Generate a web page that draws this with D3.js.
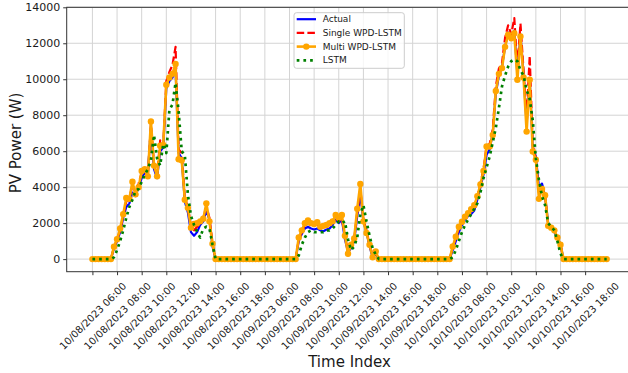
<!DOCTYPE html>
<meta charset="utf-8">
<style>
	body { margin: 0; background: #fff; }
	svg text { font-family: "DejaVu Sans", sans-serif; fill: #1a1a1a; }
</style>
<svg width="628" height="373" id="chart"></svg>
<script src="https://cdn.jsdelivr.net/npm/d3@7/dist/d3.min.js"></script>
<script>
	// 15 minute samples, 06:00 - 19:45 each day, x axis is the sample index
	var tickLabels = [
		"10/08/2023 06:00", "10/08/2023 08:00", "10/08/2023 10:00", "10/08/2023 12:00", "10/08/2023 14:00", "10/08/2023 16:00", "10/08/2023 18:00",
		"10/09/2023 06:00", "10/09/2023 08:00", "10/09/2023 10:00", "10/09/2023 12:00", "10/09/2023 14:00", "10/09/2023 16:00", "10/09/2023 18:00",
		"10/10/2023 06:00", "10/10/2023 08:00", "10/10/2023 10:00", "10/10/2023 12:00", "10/10/2023 14:00", "10/10/2023 16:00", "10/10/2023 18:00"
	];
	var tickIndex = [0, 8, 16, 24, 32, 40, 48, 56, 64, 72, 80, 88, 96, 104, 112, 120, 128, 136, 144, 152, 160];
	var yTicks = [0, 2000, 4000, 6000, 8000, 10000, 12000, 14000];

	var actual = [
		0,0,0,0,0,0,0, 600,1000,1500,2300,2900,3100,3700,3500,4000,4500,4800,4800,7300,5000,4500,6000,6200,9500,9900,10100,10500,
		5900,5600,3200,2600,1500,1300,1500,1900,2100,2700,2200,700, 0,0,0,0,0,0,0,0,0,0,0,0,0,0,0,0,
		0,0,0,0,0,0,0,0,0,0,0, 1000,1400,1700,1800,1700,1650,1700,1600,1550,1650,1700,1900,2200,2000,2200,1100,400,
		600,1000,2400,3600,2100,1500,700,100,300, 0,0,0,0,0,0,0,0,0,0,0,0,0,0,0,0,0,0,0,
		0,0,0,0,0, 500,1000,1500,1900,2200,2400,2500,2700,3300,4000,4700,5800,6100,7000,9200,10200,10700,11800,12600,12300,12700,10300,12500,
		10300,7500,10000,6200,5700,4000,4200,3500,2000,1700,1500,1200,800, 0,0,0,0,0,0,0,0,0,0,0,0,0,0,0
	];
	var singleWPD = [
		0,0,0,0,0,0,0, 650,1100,1600,2400,3200,3400,4100,3700,4200,4800,5000,4600,7500,5300,4700,6600,6300,9900,10400,10800,11800,
		6100,5900,3400,2900,1800,1600,1800,2000,2300,2900,2300,900, 0,0,0,0,0,0,0,0,0,0,0,0,0,0,0,0,
		0,0,0,0,0,0,0,0,0,0,0, 1100,1500,1900,2000,1900,1900,1900,1700,1800,1900,2000,2100,2300,2100,2300,1200,500,
		700,1100,2600,3900,2200,1600,800,200,350, 0,0,0,0,0,0,0,0,0,0,0,0,0,0,0,0,0,0,0,
		0,0,0,0,0, 650,1200,1700,2000,2300,2500,2700,2900,3500,4200,5000,6300,6400,7200,9600,10600,10900,12300,13000,12500,13400,10600,13100,
		10500,7800,11300,6300,5600,3700,4000,3500,1900,1800,1600,1200,800, 0,0,0,0,0,0,0,0,0,0,0,0,0,0,0
	];
	var multiWPD = [
		0,0,0,0,0,0,0, 690,1100,1700,2500,3400,3350,4300,3600,4000,4900,5000,4600,7650,5200,4600,6300,6350,9700,10100,10300,10850,
		5550,5500,3300,2850,1750,1950,2000,2100,2250,3100,2100,850, 0,0,0,0,0,0,0,0,0,0,0,0,0,0,0,0,
		0,0,0,0,0,0,0,0,0,0,0, 1200,1600,2000,2150,2000,1950,2050,1800,1850,1900,2000,2100,2450,2300,2450,1300,300,
		800,1150,2800,4180,2100,1450,800,100,420, 0,0,0,0,0,0,0,0,0,0,0,0,0,0,0,0,0,0,0,
		0,0,0,0,0, 700,1250,1800,2080,2360,2550,2780,3000,3500,4150,4900,6260,6260,6900,9350,10300,10620,11800,12480,12280,12560,9970,12380,
		10100,7090,9970,5980,5520,3350,3900,3550,1850,1750,1600,1200,800, 0,0,0,0,0,0,0,0,0,0,0,0,0,0,0
	];
	var lstm = [
		0,0,0,0,0,0,0, 100,500,1000,1600,2300,2900,3300,3800,3900,4300,4700,5000,5500,6900,5600,5200,6400,5900,8300,8600,9800,
		8200,6000,5800,3600,2400,1900,1500,1200,1700,1800,1700,800, 0,0,0,0,0,0,0,0,0,0,0,0,0,0,0,0,
		0,0,0,0,0,0,0,0,0,0,0, 200,800,1200,1500,1600,1500,1500,1500,1500,1600,1600,1700,1900,2100,2000,2100,1100,
		500,700,1200,2500,3000,2100,1300,600,250, 0,0,0,0,0,0,0,0,0,0,0,0,0,0,0,0,0,0,0,
		0,0,0,0,0, 100,500,1000,1500,1900,2200,2500,2800,3100,3700,4500,5100,5700,6500,7300,8400,9600,10200,10700,11000,11100,11000,10500,
		10200,9400,8900,7700,5600,4400,3500,3000,2000,1800,1600,1000,300, 0,0,0,0,0,0,0,0,0,0,0,0,0,0,0
	];

	var series = [
		{name: "Actual", values: actual, color: "#0000ff", width: 2.2, dash: null, marker: false},
		{name: "Single WPD-LSTM", values: singleWPD, color: "#ff0000", width: 2.2, dash: "7.5,3.2", marker: false},
		{name: "Multi WPD-LSTM", values: multiWPD, color: "#ffa500", width: 2.6, dash: null, marker: true},
		{name: "LSTM", values: lstm, color: "#008000", width: 2.7, dash: "2.7,4", marker: false}
	];

	var svg = d3.select("#chart"),
		box = {left: 66.7, right: 632.4, top: 7.3, bottom: 271.7};

	var n = actual.length,
		pad = (n - 1) * 0.05;

	var x = d3.scaleLinear().domain([-pad, n - 1 + pad]).range([box.left, box.right]),
		y = d3.scaleLinear().domain([-700, 14000]).range([box.bottom, box.top]);

	// grid
	var grid = svg.append("g").attr("class", "grid");
	grid.selectAll("line.gx").data(tickIndex).enter().append("line")
		.attr("x1", d => x(d)).attr("x2", d => x(d))
		.attr("y1", box.top).attr("y2", box.bottom)
		.attr("stroke", "#d4d4d4").attr("stroke-width", 1);
	grid.selectAll("line.gy").data(yTicks).enter().append("line")
		.attr("x1", box.left).attr("x2", box.right)
		.attr("y1", d => y(d)).attr("y2", d => y(d))
		.attr("stroke", "#d4d4d4").attr("stroke-width", 1);

	svg.append("defs").append("clipPath")
		.attr("id", "clip")
		.append("rect")
		.attr("x", box.left).attr("y", box.top)
		.attr("width", box.right - box.left).attr("height", box.bottom - box.top);

	var plot = svg.append("g").attr("clip-path", "url(#clip)");
	var line = d3.line().x((d, i) => x(i)).y(d => y(d));

	series.forEach(function(s) {
		plot.append("path")
			.datum(s.values)
			.attr("d", line)
			.attr("fill", "none")
			.attr("stroke", s.color)
			.attr("stroke-width", s.width)
			.attr("stroke-linejoin", "round")
			.attr("stroke-dasharray", s.dash);
		if (s.marker) {
			plot.append("g").selectAll("circle")
				.data(s.values).enter().append("circle")
				.attr("cx", (d, i) => x(i))
				.attr("cy", d => y(d))
				.attr("r", 3.2)
				.attr("fill", s.color);
		}
	});

	// frame
	svg.append("rect")
		.attr("x", box.left).attr("y", box.top)
		.attr("width", box.right - box.left).attr("height", box.bottom - box.top)
		.attr("fill", "none").attr("stroke", "#333").attr("stroke-width", 1);

	// axes
	var yAxis = d3.axisLeft(y).tickValues(yTicks).tickSize(3.5).tickPadding(3).tickFormat(d3.format("d"));
	var gy = svg.append("g").attr("transform", "translate(" + box.left + ",0)").call(yAxis);
	gy.select(".domain").remove();
	gy.selectAll("line").attr("stroke", "#333");
	gy.selectAll("text").style("font-size", "11px").style("font-family", "DejaVu Sans");

	var xAxis = d3.axisBottom(x).tickValues(tickIndex).tickSize(3.5).tickPadding(5)
		.tickFormat((d, i) => tickLabels[i]);
	var gx = svg.append("g").attr("transform", "translate(0," + box.bottom + ")").call(xAxis);
	gx.select(".domain").remove();
	gx.selectAll("line").attr("stroke", "#333");
	var fs = 10;
	gx.selectAll("text")
		.style("font-size", fs + "px").style("font-family", "DejaVu Sans")
		.attr("dy", null)
		.attr("text-anchor", "middle")
		.attr("dominant-baseline", "central")
		.each(function() {
			var len = this.getComputedTextLength();
			var h = (len + 1.16 * fs) * 0.7071;
			var cy = 3.5 + 5 + h / 2;
			d3.select(this).attr("x", 0).attr("y", cy)
				.attr("transform", "rotate(-45,0," + cy + ")");
		});

	// axis titles
	svg.append("text")
		.attr("x", (box.left + box.right) / 2).attr("y", 367)
		.attr("text-anchor", "middle")
		.style("font-size", "15px")
		.text("Time Index");
	svg.append("text")
		.attr("transform", "translate(21,143) rotate(-90)")
		.attr("text-anchor", "middle")
		.style("font-size", "15px")
		.text("PV Power (W)");

	// legend
	var legend = svg.append("g").attr("transform", "translate(294,12.7)");
	legend.append("rect")
		.attr("width", 110.3).attr("height", 55.6).attr("rx", 2.5)
		.attr("fill", "#fff").attr("fill-opacity", 0.8)
		.attr("stroke", "#cccccc").attr("stroke-width", 1);
	var rows = legend.selectAll("g.row").data(series).enter().append("g")
		.attr("transform", (d, i) => "translate(0," + (6.5 + i * 13.7) + ")");
	rows.append("line")
		.attr("x1", 2.7).attr("x2", 22)
		.attr("stroke", d => d.color)
		.attr("stroke-width", d => d.width)
		.attr("stroke-dasharray", d => d.dash);
	rows.filter(d => d.marker).append("circle")
		.attr("cx", 12.3).attr("r", 3.2).attr("fill", d => d.color);
	rows.append("text")
		.attr("x", 28.7).attr("dy", "0.35em")
		.style("font-size", "9px")
		.text(d => d.name);
</script>
